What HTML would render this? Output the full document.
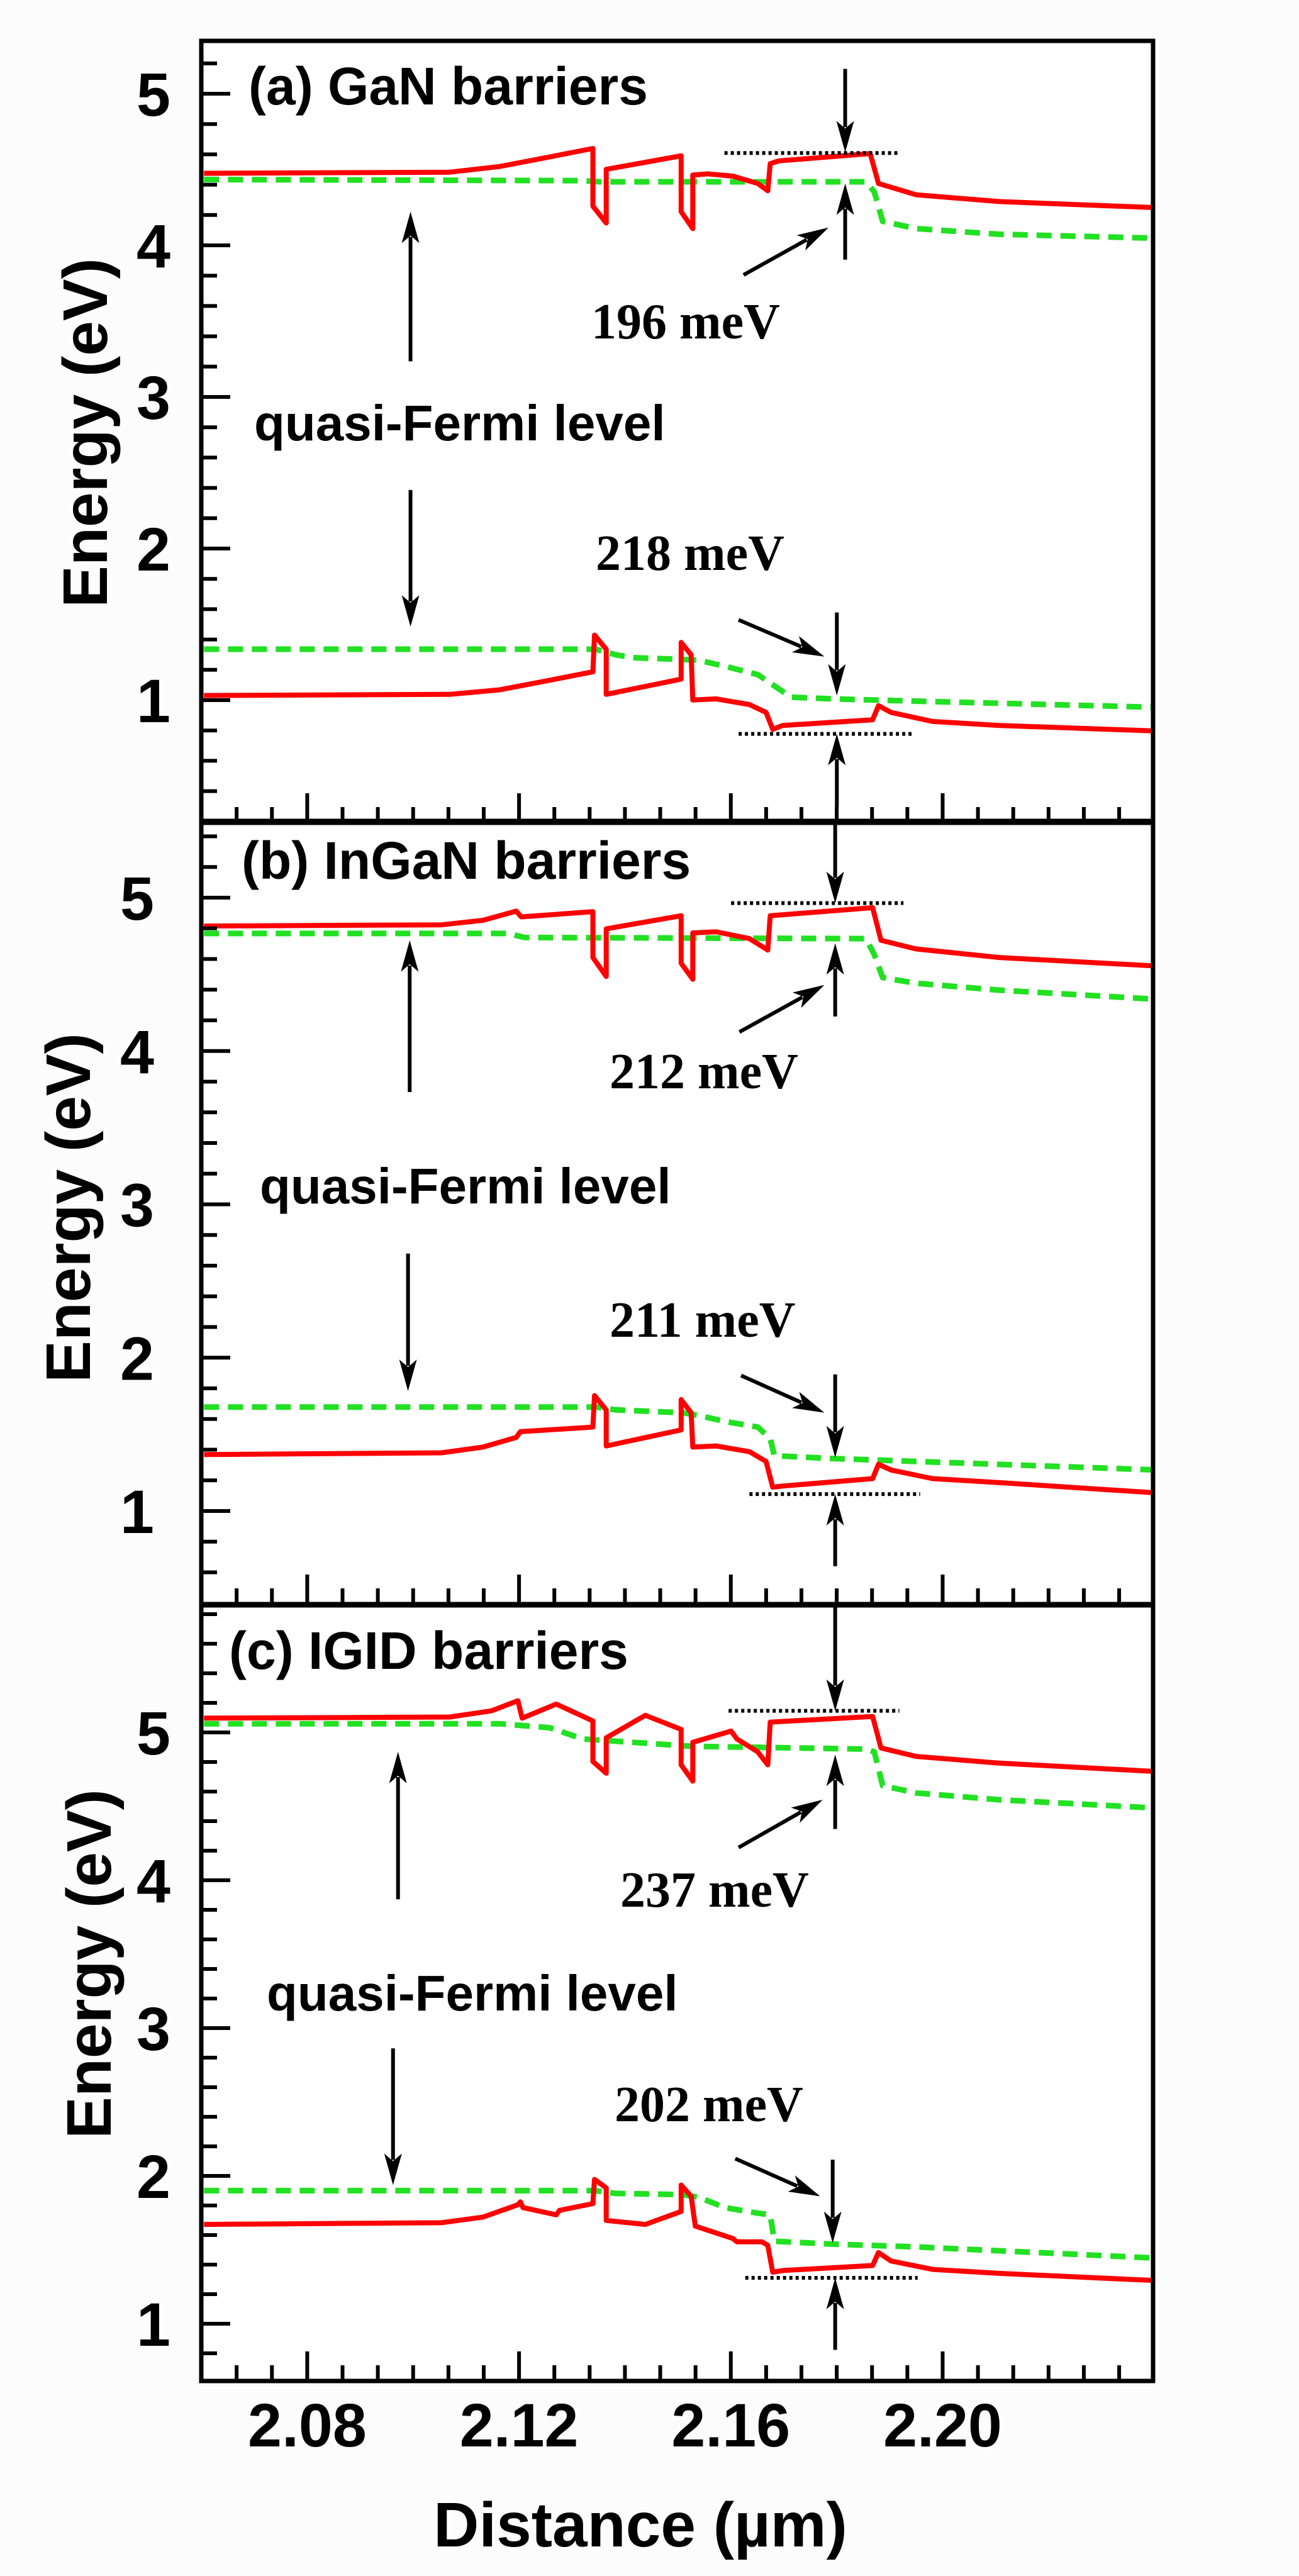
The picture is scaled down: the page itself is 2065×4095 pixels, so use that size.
<!DOCTYPE html>
<html><head><meta charset="utf-8"><style>
html,body{margin:0;padding:0;background:#fcfcfc;}
svg{display:block;}
</style></head><body>
<svg id="s" xmlns="http://www.w3.org/2000/svg" width="2065" height="4095" viewBox="0 0 2065 4095">
<rect x="0" y="0" width="2065" height="4095" fill="#fcfcfc"/>
<rect x="320" y="65" width="1513" height="3720" fill="#ffffff"/>
<g id="curves"></g>
<g id="ann"></g>
<g id="axes"></g>
<g font-family="'Liberation Sans', Arial, sans-serif" font-weight="bold" fill="#000">
<text x="395" y="166" font-size="84">(a) GaN barriers</text>
<text x="404" y="700" font-size="80">quasi-Fermi level</text>
<text x="384" y="1397" font-size="84">(b) InGaN barriers</text>
<text x="413" y="1913" font-size="80">quasi-Fermi level</text>
<text x="364" y="2653" font-size="84">(c) IGID barriers</text>
<text x="424" y="3196" font-size="80">quasi-Fermi level</text>
<text transform="translate(170,688) rotate(-90)" text-anchor="middle" font-size="100">Energy (eV)</text>
<text transform="translate(143,1920) rotate(-90)" text-anchor="middle" font-size="100">Energy (eV)</text>
<text transform="translate(176,3122) rotate(-90)" text-anchor="middle" font-size="100">Energy (eV)</text>
<text x="1018" y="4048" text-anchor="middle" font-size="100">Distance (µm)</text>
</g>
<g font-family="'Liberation Serif', 'Times New Roman', serif" font-weight="bold" fill="#000" font-size="80">
<text x="940" y="538">196 meV</text>
<text x="947" y="906">218 meV</text>
<text x="969" y="1730">212 meV</text>
<text x="969" y="2125">211 meV</text>
<text x="986" y="3031">237 meV</text>
<text x="977" y="3372">202 meV</text>
</g>
<g id="labels" font-family="'Liberation Sans', Arial, sans-serif" font-weight="bold" fill="#000" font-size="97"></g>
</svg>
<script>
(function(){
var NS="http://www.w3.org/2000/svg";
var S=1.3237;
var P=[{oy:0,sy:0.8974,top:65,bot:1308,y5:149,y1:1113,lx:271},
       {oy:1290,sy:0.9103,top:1305,bot:2550,y5:1427,y1:2402,lx:245},
       {oy:2700,sy:0.8942,top:2552,bot:3785,y5:2754,y1:3694,lx:271}];
var L=320,R=1833;
function el(parent,tag,attrs,txt){var e=document.createElementNS(NS,tag);for(var k in attrs)e.setAttribute(k,attrs[k]);if(txt!==undefined)e.textContent=txt;parent.appendChild(e);return e;}
function tr(p,pt){return [pt[0]*S,p.oy+pt[1]*p.sy];}
function path(p,pts){return pts.map(function(q,i){var t=tr(p,q);return (i?'L':'M')+t[0].toFixed(1)+' '+t[1].toFixed(1);}).join(' ');}
var curves=document.getElementById('curves'),ann=document.getElementById('ann'),axes=document.getElementById('axes'),labels=document.getElementById('labels');
var defs=el(document.getElementById('s'),'defs',{});
P.forEach(function(p,i){var c=el(defs,'clipPath',{id:'c'+i});el(c,'rect',{x:L,y:p.top,width:R-L,height:p.bot-p.top});});
var D=[
 {red:[
  [[245,307],[540,305],[600,295],[660,278],[712,263],[712,365],[728,395],[728,300],[818,276],[818,375],[832,405],[832,310],[850,308],[880,312],[910,325],[922,338],[925,290],[935,285],[1045,272],[1055,325],[1100,345],[1200,357],[1390,368]],
  [[245,1232],[540,1230],[600,1222],[660,1205],[712,1190],[714,1125],[728,1150],[728,1230],[818,1203],[818,1138],[830,1160],[832,1240],[860,1238],[900,1248],[920,1262],[928,1292],[940,1285],[1048,1275],[1055,1250],[1070,1262],[1120,1278],[1200,1285],[1390,1295]]],
  green:[
  [[245,318],[700,320],[720,322],[1040,322],[1050,340],[1060,392],[1100,405],[1200,415],[1390,422]],
  [[245,1150],[715,1150],[740,1160],[760,1165],[820,1168],[840,1170],[870,1180],[910,1195],[925,1210],[950,1235],[1000,1238],[1100,1242],[1390,1253]]],
  arrows:[[493,640,493,375],[493,868,493,1110],[1015,122,1015,270],[1015,460,1015,325],[893,487,995,403],[887,1098,990,1163],[1005,1085,1005,1232],[1005,1430,1005,1300]],
  dots:[[870,1080,271],[887,1095,1300]]},
 {red:[
  [[245,200],[530,198],[580,190],[620,174],[626,184],[712,175],[712,255],[728,288],[728,205],[818,182],[818,265],[832,293],[832,212],[860,210],[900,222],[920,240],[922,242],[925,182],[1048,168],[1058,225],[1100,240],[1200,255],[1390,270]],
  [[245,1123],[530,1120],[580,1110],[620,1093],[625,1083],[712,1075],[714,1020],[728,1045],[728,1108],[818,1080],[818,1027],[830,1050],[832,1110],[860,1108],[900,1118],[920,1135],[928,1180],[940,1178],[1048,1165],[1055,1140],[1070,1150],[1120,1165],[1200,1172],[1390,1190]]],
  green:[
  [[245,213],[610,213],[630,220],[1040,222],[1050,250],[1060,290],[1100,300],[1200,312],[1390,328]],
  [[245,1040],[715,1040],[740,1045],[820,1050],[840,1055],[870,1065],[910,1075],[925,1095],[930,1125],[1000,1130],[1100,1135],[1390,1150]]],
  arrows:[[492,490,492,225],[490,772,490,1012],[1003,20,1003,160],[1003,358,1003,230],[888,385,990,303],[890,985,990,1050],[1003,983,1003,1128],[1003,1318,1003,1192]],
  dots:[[878,1085,160],[900,1105,1192]]},
 {red:[
  [[245,35],[540,33],[590,22],[622,4],[627,35],[668,10],[712,40],[712,112],[728,133],[728,70],[775,30],[818,55],[818,118],[832,147],[832,78],[878,58],[885,72],[910,95],[922,118],[925,42],[1048,32],[1058,88],[1100,103],[1200,115],[1390,130]],
  [[245,935],[530,932],[580,922],[622,900],[625,895],[628,905],[668,918],[672,910],[712,898],[714,855],[728,870],[728,928],[775,935],[818,912],[818,865],[830,885],[835,938],[880,960],[885,966],[915,966],[922,972],[928,1020],[940,1017],[1048,1008],[1055,985],[1070,1000],[1120,1015],[1200,1022],[1390,1035]]],
  green:[
  [[245,45],[600,45],[660,52],[700,72],[830,85],[1040,90],[1050,95],[1060,155],[1100,168],[1200,180],[1390,195]],
  [[245,875],[715,875],[740,880],[820,882],[840,887],[870,905],[910,915],[925,918],[930,965],[1000,970],[1100,975],[1390,995]]],
  arrows:[[478,357,478,95],[472,622,472,865],[1003,-170,1003,22],[1003,232,1003,100],[887,265,988,180],[883,818,985,885],[1000,820,1000,968],[1003,1158,1003,1030]],
  dots:[[875,1080,22],[895,1102,1030]]}
];
D.forEach(function(d,i){
 var p=P[i];
 var g=el(curves,'g',{'clip-path':'url(#c'+i+')',fill:'none','stroke-linejoin':'round'});
 d.green.forEach(function(c){el(g,'path',{d:path(p,c),stroke:'#22e022','stroke-width':9,'stroke-dasharray':'24 14'});});
 d.red.forEach(function(c){el(g,'path',{d:path(p,c),stroke:'#ff0000','stroke-width':8});});
 d.dots.forEach(function(q){var a=tr(p,[q[0],q[2]]),b=tr(p,[q[1],q[2]]);el(ann,'line',{x1:a[0],y1:a[1],x2:b[0],y2:b[1],stroke:'#000','stroke-width':6,'stroke-dasharray':'5 5'});});
 d.arrows.forEach(function(q){
  var a=tr(p,[q[0],q[1]]),b=tr(p,[q[2],q[3]]);
  var dx=b[0]-a[0],dy=b[1]-a[1],len=Math.sqrt(dx*dx+dy*dy),ux=dx/len,uy=dy/len;
  var hl=50,hw=14;
  var bx=b[0]-ux*hl,by=b[1]-uy*hl;
  el(ann,'line',{x1:a[0],y1:a[1],x2:bx+ux*10,y2:by+uy*10,stroke:'#000','stroke-width':6});
  var pts=[[b[0],b[1]],[bx-uy*hw,by+ux*hw],[bx+ux*12,by+uy*12],[bx+uy*hw,by-ux*hw]];
  el(ann,'polygon',{points:pts.map(function(t){return t[0].toFixed(1)+','+t[1].toFixed(1);}).join(' '),fill:'#000'});
 });
 var k=(p.y1-p.y5)/4;
 for(var n=0;n<=30;n++){
  var e=n/5;
  var y=p.y5+(5-e)*k; if(y<p.top+8||y>p.bot-8)continue;
  var maj=(n%5===0);
  el(axes,'line',{x1:L,y1:y,x2:L+(maj?46:25),y2:y,stroke:'#000','stroke-width':6});
  if(maj&&n>=5&&n<=25)el(labels,'text',{x:p.lx,y:y+35,'text-anchor':'end'},String(n/5));
 }
 for(var j=-3;j<=24;j++){
  var x=488.4+j*336.7/6; if(x<L+8||x>R-8)continue;
  var m=(j%6===0);
  el(axes,'line',{x1:x,y1:p.bot,x2:x,y2:p.bot-(m?47:25),stroke:'#000','stroke-width':6});
 }
 el(axes,'rect',{x:L,y:p.top,width:R-L,height:p.bot-p.top,fill:'none',stroke:'#000','stroke-width':7});
});
['2.08','2.12','2.16','2.20'].forEach(function(t,j){el(labels,'text',{x:488.4+j*336.7,y:3889,'text-anchor':'middle'},t);});
})();
</script>
</body></html>
